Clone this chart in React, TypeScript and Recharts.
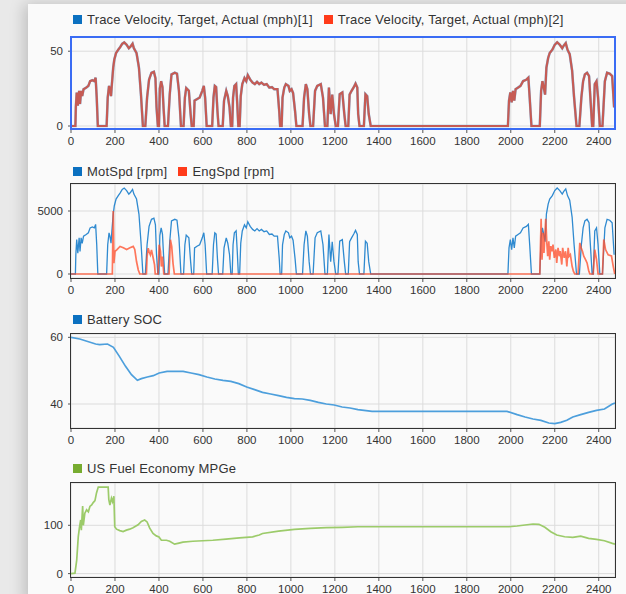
import React from "react";
import { LineChart, Line, XAxis, YAxis, CartesianGrid } from "recharts";

// ---------- data ----------

const X_TICKS = [0, 200, 400, 600, 800, 1000, 1200, 1400, 1600, 1800, 2000, 2200, 2400];
const X_MAX = 2474;

// drive cycle time base (s) shared by velocity and motor speed
const SPEED_T = [
  0, 20, 22, 26, 31, 37, 41, 46, 51, 57,
  69, 79, 87, 97, 106, 112, 117, 122, 162, 167,
  173, 177, 182, 186, 192, 197, 205, 215, 223, 233,
  242, 253, 263, 271, 280, 286, 298, 309, 318, 327,
  338, 346, 355, 366, 377, 384, 389, 395, 400, 404,
  410, 416, 421, 426, 441, 449, 457, 472, 482, 491,
  500, 512, 518, 524, 536, 544, 549, 558, 562, 573,
  585, 597, 604, 610, 617, 642, 648, 654, 660, 666,
  671, 690, 696, 706, 713, 721, 727, 733, 737, 743,
  751, 756, 761, 767, 772, 779, 789, 797, 804, 815,
  826, 836, 846, 856, 866, 878, 890, 902, 914, 924,
  939, 947, 951, 958, 962, 970, 977, 989, 995, 1003,
  1010, 1019, 1025, 1053, 1060, 1068, 1075, 1083, 1089, 1101,
  1110, 1120, 1136, 1146, 1155, 1166, 1173, 1181, 1188, 1196,
  1204, 1214, 1222, 1234, 1243, 1249, 1261, 1267, 1276, 1286,
  1294, 1302, 1306, 1312, 1332, 1339, 1347, 1354, 1363, 1987,
  1992, 1998, 2004, 2010, 2016, 2022, 2033, 2044, 2056, 2071,
  2080, 2086, 2094, 2132, 2138, 2144, 2150, 2156, 2162, 2170,
  2177, 2189, 2200, 2211, 2223, 2234, 2241, 2250, 2258, 2268,
  2279, 2288, 2299, 2312, 2321, 2329, 2337, 2347, 2356, 2362,
  2370, 2375, 2382, 2390, 2397, 2405, 2417, 2428, 2438, 2450,
  2461, 2470,
];

const TARGET_MPH = [
  0, 0, 12.5, 22.4, 13.6, 23.5, 14.7, 23.5, 20, 24.6,
  25.7, 26.8, 30, 30.6, 30, 32.3, 19, 0, 0, 19,
  26.8, 24.6, 20, 28, 39, 44.4, 48.8, 51, 52.6, 55,
  55.9, 54.3, 52, 53.2, 55, 52, 48.8, 39, 21.3, 0,
  0, 19, 31, 35.6, 36.3, 32, 12.5, 0, 0, 25,
  30, 26, 12, 0, 0, 21, 34.5, 35.6, 35, 23.5,
  0, 0, 19, 25.3, 23.5, 8, 0, 0, 17, 18,
  19, 23.5, 26.8, 19, 0, 0, 19, 26.8, 26, 10,
  0, 0, 17, 23.5, 20, 12.5, 0, 0, 19, 26.8,
  28, 15, 0, 0, 20, 28, 32, 30, 34, 31,
  29, 28, 29.5, 28, 29, 27.5, 28, 25.7, 26, 24.6,
  24.6, 10, 0, 0, 19, 25.7, 28, 26.8, 23.5, 24.6,
  22, 10, 0, 0, 19, 28, 24.6, 8, 0, 0,
  23.5, 26.8, 28, 19, 0, 0, 25.7, 8, 21, 8,
  0, 0, 21.3, 22.4, 8, 0, 0, 21, 23.5, 26,
  28.4, 25.7, 8, 0, 0, 21.3, 20, 8, 0, 0,
  17, 22.4, 15.8, 23.5, 17, 24.6, 25.7, 26.8, 30, 31,
  32.3, 19, 0, 0, 23.5, 30, 25.7, 21, 39, 45.5,
  48.8, 51, 54.3, 56, 54.3, 52, 53.8, 55.4, 51, 48,
  37, 19, 0, 0, 19, 30, 34.5, 35.6, 33.4, 19,
  0, 0, 28, 30, 19, 0, 0, 30, 35.6, 35,
  33.4, 12.5,
];

// actual trace sits right on top of the target in the picture
const ACTUAL_MPH = [...TARGET_MPH];

const MOT_RPM = [
  0, 0, 1530, 2730, 1660, 2870, 1790, 2870, 2440, 3000,
  3140, 3270, 3660, 3730, 3660, 3940, 2320, 0, 0, 2320,
  3270, 3000, 2440, 3420, 4760, 5420, 5950, 6220, 6420, 6710,
  6820, 6620, 6340, 6490, 6710, 6340, 5950, 4760, 2600, 0,
  0, 2320, 3780, 4340, 4430, 3900, 1530, 0, 0, 3050,
  3660, 3170, 1460, 0, 0, 2560, 4210, 4340, 4270, 2870,
  0, 0, 2320, 3090, 2870, 980, 0, 0, 2070, 2200,
  2320, 2870, 3270, 2320, 0, 0, 2320, 3270, 3170, 1220,
  0, 0, 2070, 2870, 2440, 1530, 0, 0, 2320, 3270,
  3420, 1830, 0, 0, 2440, 3420, 3900, 3660, 4150, 3780,
  3540, 3420, 3600, 3420, 3540, 3360, 3420, 3140, 3170, 3000,
  3000, 1220, 0, 0, 2320, 3140, 3420, 3270, 2870, 3000,
  2680, 1220, 0, 0, 2320, 3420, 3000, 980, 0, 0,
  2870, 3270, 3420, 2320, 0, 0, 3140, 980, 2560, 980,
  0, 0, 2600, 2730, 980, 0, 0, 2560, 2870, 3170,
  3460, 3140, 980, 0, 0, 2600, 2440, 980, 0, 0,
  2070, 2730, 1930, 2870, 2070, 3000, 3140, 3270, 3660, 3780,
  3940, 2320, 0, 0, 2870, 3660, 3140, 2560, 4760, 5550,
  5950, 6220, 6620, 6830, 6620, 6340, 6560, 6760, 6220, 5860,
  4510, 2320, 0, 0, 2320, 3660, 4210, 4340, 4070, 2320,
  0, 0, 3420, 3660, 2320, 0, 0, 3660, 4340, 4270,
  4070, 1530,
];

const ENG_T = [
  0, 188, 192, 195, 200, 208, 223, 238, 253, 268,
  283, 290, 298, 306, 313, 343, 346, 351, 355, 361,
  366, 374, 380, 383, 396, 401, 407, 411, 416, 422,
  446, 452, 458, 464, 470, 2132, 2138, 2142, 2147, 2151,
  2159, 2164, 2168, 2173, 2177, 2182, 2188, 2192, 2198, 2205,
  2209, 2215, 2221, 2225, 2232, 2236, 2243, 2249, 2255, 2261,
  2265, 2271, 2279, 2285, 2291, 2306, 2314, 2320, 2326, 2332,
  2340, 2347, 2355, 2360, 2375, 2382, 2390, 2397, 2417, 2423,
  2431, 2443, 2458, 2466, 2473,
];
const ENG_RPM = [
  0, 0, 5000, 850, 1790, 1920, 2190, 2080, 1950, 2080,
  2190, 1950, 990, 320, 0, 0, 1390, 2050, 1790, 1520,
  1920, 1250, 720, 0, 0, 2320, 1790, 590, 1390, 0,
  0, 2720, 2190, 850, 0, 0, 4390, 1140, 3270, 1680,
  4390, 2460, 1410, 2600, 1140, 2210, 1810, 2340, 1280, 1950,
  880, 2080, 1410, 1810, 750, 2080, 1280, 1810, 610, 2080,
  1410, 1540, 610, 210, 0, 0, 2470, 2080, 1810, 1410,
  1140, 880, 210, 0, 0, 1940, 1140, 0, 0, 2740,
  1940, 1520, 1440, 610, 0,
];

const SOC_T = [
  0, 40, 112, 130, 166, 193, 220, 248, 275, 302,
  320, 347, 374, 401, 437, 474, 510, 546, 582, 618,
  654, 691, 727, 763, 799, 835, 871, 908, 944, 980,
  1016, 1052, 1088, 1125, 1161, 1197, 1233, 1269, 1305, 1342,
  1369, 1983, 2029, 2065, 2101, 2137, 2173, 2200, 2227, 2255,
  2282, 2318, 2354, 2390, 2426, 2462, 2474,
];
const SOC = [
  60, 59.5, 58, 57.8, 58, 57, 54.3, 51.3, 48.8, 47.1,
  47.6, 48.1, 48.5, 49.3, 49.8, 49.8, 49.8, 49.3, 48.8, 48.1,
  47.5, 47.1, 46.8, 46.1, 45.1, 44.3, 43.5, 43, 42.5, 42,
  41.6, 41.5, 41.1, 40.5, 40, 39.7, 39.1, 38.8, 38.3, 38,
  37.8, 37.8, 36.8, 36.1, 35.5, 35.1, 34.3, 34.1, 34.5, 35.1,
  36.1, 36.8, 37.5, 38.1, 38.5, 40, 40.3,
];

const MPG_T = [
  0, 18, 26, 33, 38, 44, 47, 53, 56, 63,
  71, 79, 86, 94, 101, 109, 116, 124, 169, 172,
  177, 184, 189, 195, 199, 207, 222, 237, 252, 267,
  282, 305, 320, 335, 346, 358, 373, 388, 400, 411,
  434, 449, 471, 486, 509, 554, 599, 645, 705, 766,
  826, 856, 871, 944, 1016, 1088, 1161, 1233, 1305, 1369,
  1992, 2029, 2065, 2101, 2128, 2155, 2182, 2209, 2245, 2282,
  2318, 2354, 2390, 2426, 2462, 2474,
];
const MPGE = [
  0, 1, 28, 76, 94, 111, 90, 140, 100, 125,
  132, 128, 139, 142, 147, 151, 167, 179, 179, 153,
  142, 156, 149, 160, 97, 92, 89, 87, 90, 92,
  95, 101, 108, 111, 107, 94, 83, 78, 76, 69,
  69, 67, 61, 62.5, 65, 67, 68, 69, 71.5, 74,
  76, 80, 83, 88, 91.6, 93.7, 95, 95.8, 97, 97,
  97, 98.5, 100.6, 102.7, 102, 95.8, 86.8, 79.8, 76.3, 75,
  77.7, 72.9, 70.8, 68, 62.5, 61,
];

// ---------- styling ----------

const FONT = 'Arial, "Liberation Sans", Helvetica, sans-serif';
const PLOT_LEFT = 71;
const PLOT_RIGHT = 615;
const GRID = "#dcdcdc";
const TICK_STYLE = { fontSize: 11.5, fill: "#333", fontFamily: FONT };

const speedRows = SPEED_T.map((t, i) => ({
  t,
  target: TARGET_MPH[i],
  actual: ACTUAL_MPH[i],
  mot: MOT_RPM[i],
}));
const engRows = ENG_T.map((t, i) => ({ t, eng: ENG_RPM[i] }));
const socRows = SOC_T.map((t, i) => ({ t, soc: SOC[i] }));
const mpgRows = MPG_T.map((t, i) => ({ t, mpg: MPGE[i] }));

interface LegendItem {
  label: string;
  color: string;
}

function Legend({ top, items }: { top: number; items: LegendItem[] }) {
  return (
    <div
      style={{
        position: "absolute",
        left: 73,
        top,
        display: "flex",
        alignItems: "center",
        fontFamily: FONT,
        fontSize: 13,
        lineHeight: "15px",
        letterSpacing: 0.2,
        color: "#333",
        whiteSpace: "nowrap",
      }}
    >
      {items.map((it) => (
        <span key={it.label} style={{ display: "flex", alignItems: "center", marginRight: 11 }}>
          <span
            style={{
              display: "inline-block",
              width: 9,
              height: 9,
              background: it.color,
              marginRight: 5,
            }}
          />
          {it.label}
        </span>
      ))}
    </div>
  );
}

interface StripProps {
  plotTop: number;
  plotH: number;
  yDomain: [number, number];
  yTicks: number[];
  data?: object[];
  border: string;
  children: React.ReactNode;
}

function Strip({ plotTop, plotH, yDomain, yTicks, data, border, children }: StripProps) {
  const mt = 5;
  const h = mt + plotH + 22;
  return (
    <div style={{ position: "absolute", left: 0, top: plotTop - mt, width: 626, height: h }}>
      <LineChart
        width={626}
        height={h}
        data={data}
        margin={{ top: mt, right: 626 - PLOT_RIGHT, bottom: 0, left: 0 }}
      >
        <CartesianGrid stroke={GRID} strokeWidth={1} />
        <XAxis
          type="number"
          dataKey="t"
          domain={[0, X_MAX]}
          ticks={X_TICKS}
          allowDataOverflow
          height={22}
          axisLine={false}
          tickSize={4}
          tickMargin={4}
          tickLine={{ stroke: "#555" }}
          tick={TICK_STYLE}
        />
        <YAxis
          type="number"
          domain={yDomain}
          ticks={yTicks}
          allowDataOverflow
          width={PLOT_LEFT}
          axisLine={false}
          tickSize={3}
          tickMargin={5}
          tickLine={{ stroke: "#555" }}
          tick={TICK_STYLE}
        />
        {children}
      </LineChart>
      <div
        style={{
          position: "absolute",
          left: PLOT_LEFT - 1,
          top: mt - 1,
          width: PLOT_RIGHT - PLOT_LEFT + 2,
          height: plotH + 2,
          border,
          boxSizing: "border-box",
          pointerEvents: "none",
        }}
      />
    </div>
  );
}

export default function App() {
  return (
    <div
      style={{
        position: "absolute",
        left: 0,
        top: 0,
        width: 626,
        height: 594,
        overflow: "hidden",
        background: "#e9e9e9",
      }}
    >
      <div
        style={{
          position: "absolute",
          left: 28,
          top: 4,
          width: 620,
          height: 600,
          background: "#fafafa",
          boxShadow: "-4px 0 14px rgba(0,0,0,0.18)",
        }}
      />

      <Legend
        top={12}
        items={[
          { label: "Trace Velocity, Target, Actual (mph)[1]", color: "#0b70c0" },
          { label: "Trace Velocity, Target, Actual (mph)[2]", color: "#ff3b1a" },
        ]}
      />
      <Strip
        plotTop={37}
        plotH={92}
        yDomain={[-2, 59.5]}
        yTicks={[0, 50]}
        data={speedRows}
        border="2px solid #3a6cf4"
      >
        <Line
          dataKey="target"
          type="linear"
          stroke="#80bde6"
          strokeWidth={2.6}
          dot={false}
          isAnimationActive={false}
        />
        <Line
          dataKey="actual"
          type="linear"
          stroke="#d24a3a"
          strokeOpacity={0.85}
          strokeWidth={2.2}
          dot={false}
          isAnimationActive={false}
        />
      </Strip>

      <Legend
        top={164}
        items={[
          { label: "MotSpd [rpm]", color: "#0b70c0" },
          { label: "EngSpd [rpm]", color: "#ff3b1a" },
        ]}
      />
      <Strip
        plotTop={184}
        plotH={94}
        yDomain={[-317, 7143]}
        yTicks={[0, 5000]}
        data={speedRows}
        border="1px solid #333"
      >
        <Line
          dataKey="mot"
          type="linear"
          stroke="#2f8ad0"
          strokeWidth={1.3}
          dot={false}
          isAnimationActive={false}
        />
        <Line
          data={engRows}
          dataKey="eng"
          type="linear"
          stroke="#ff4a26"
          strokeOpacity={0.75}
          strokeWidth={1.7}
          dot={false}
          isAnimationActive={false}
        />
      </Strip>

      <Legend top={312} items={[{ label: "Battery SOC", color: "#0b70c0" }]} />
      <Strip
        plotTop={334}
        plotH={94}
        yDomain={[32.8, 61]}
        yTicks={[40, 60]}
        data={socRows}
        border="1px solid #333"
      >
        <Line
          dataKey="soc"
          type="linear"
          stroke="#4d9fdc"
          strokeWidth={1.7}
          dot={false}
          isAnimationActive={false}
        />
      </Strip>

      <Legend top={461} items={[{ label: "US Fuel Economy MPGe", color: "#77ac30" }]} />
      <Strip
        plotTop={483}
        plotH={94}
        yDomain={[-7, 187.5]}
        yTicks={[0, 100]}
        data={mpgRows}
        border="1px solid #333"
      >
        <Line
          dataKey="mpg"
          type="linear"
          stroke="#9ccb6a"
          strokeWidth={1.7}
          dot={false}
          isAnimationActive={false}
        />
      </Strip>
    </div>
  );
}
